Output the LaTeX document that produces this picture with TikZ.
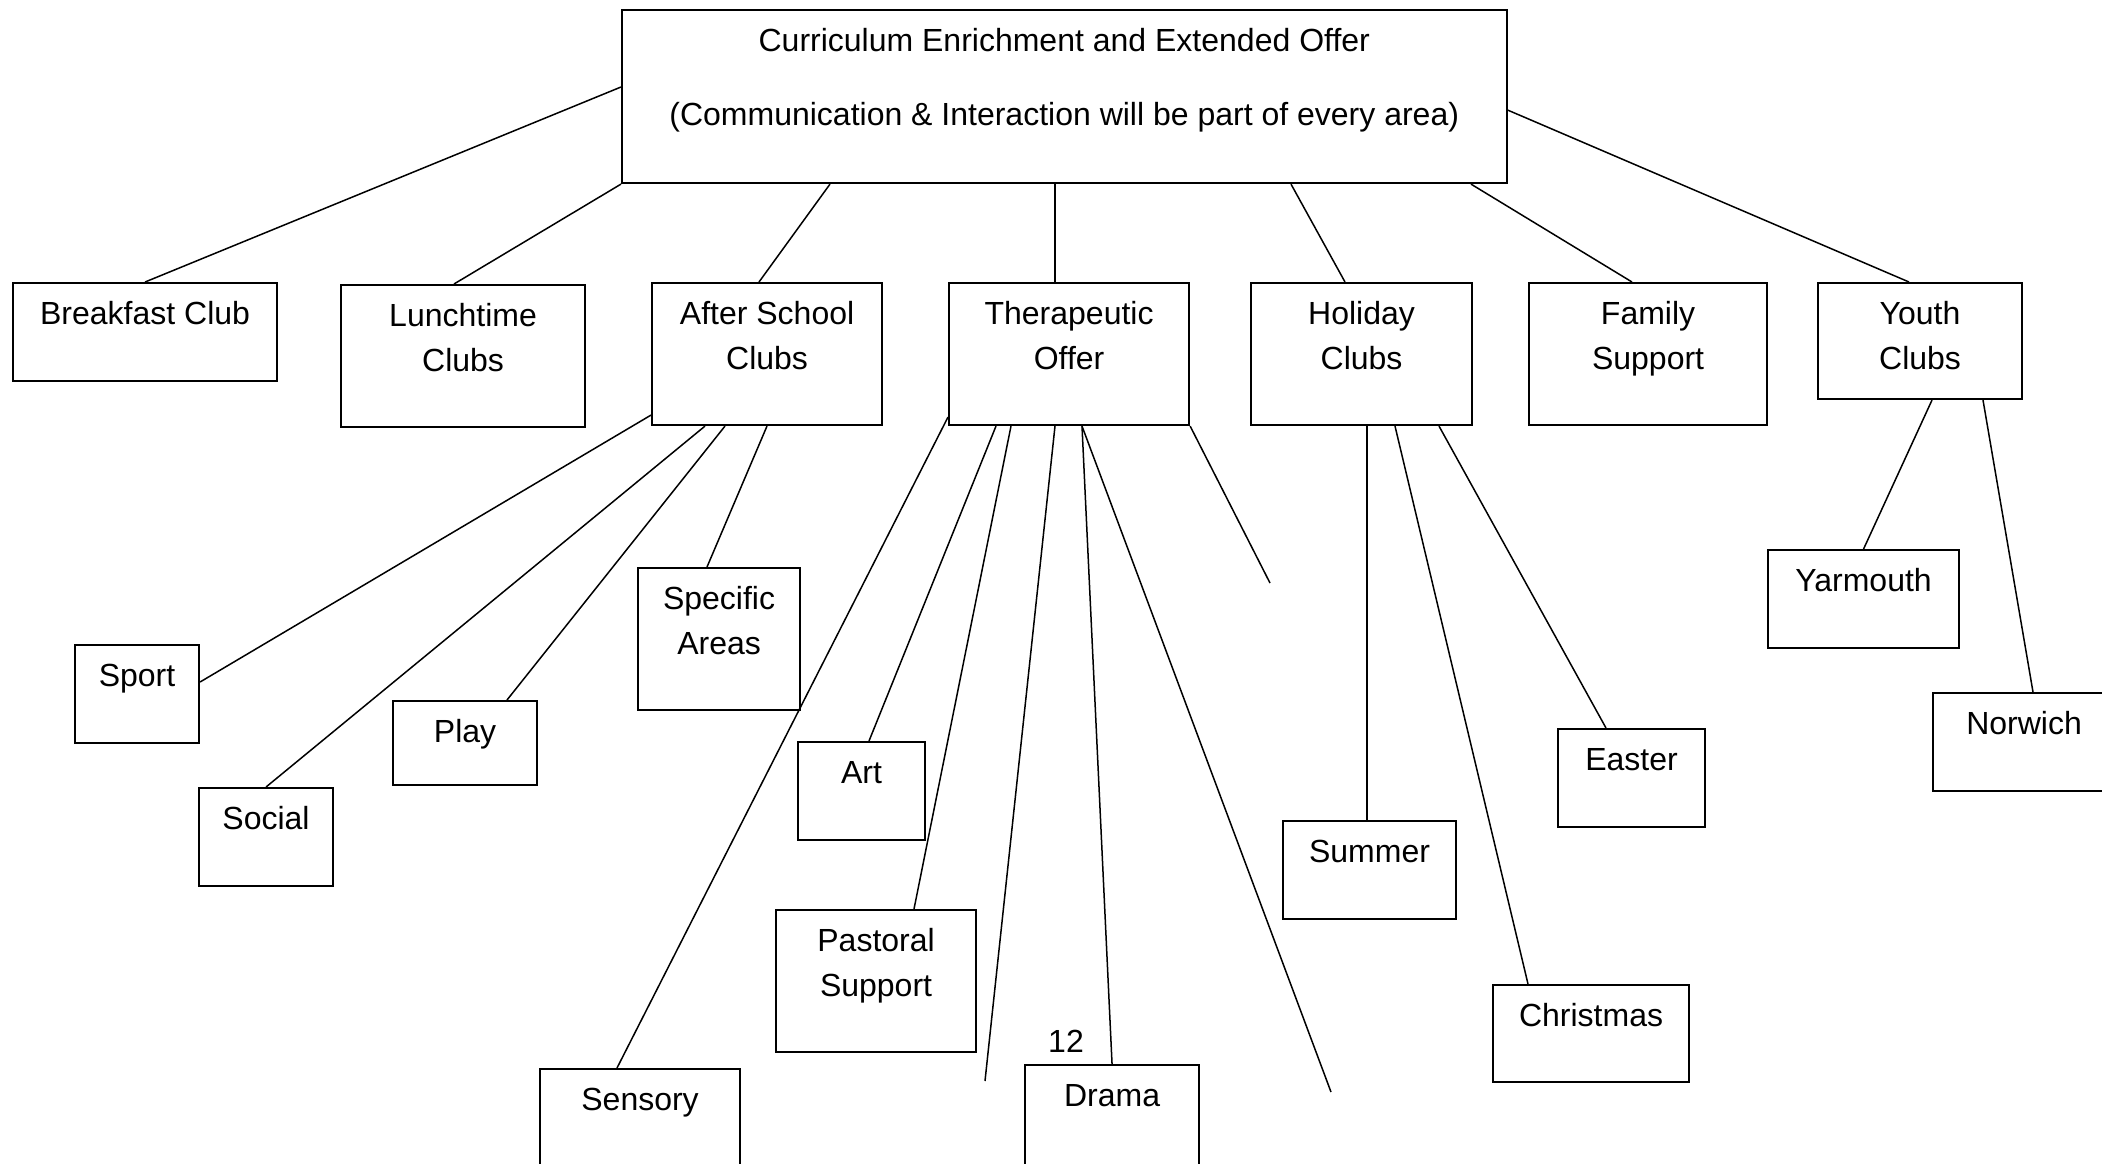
\documentclass[tikz,border=0pt]{standalone}
\usepackage{fontspec}
\setmainfont{Liberation Sans}
\usetikzlibrary{calc}

\newcommand{\btext}[3]{\parbox[c][#2][t]{#1}{\centering\vspace*{2.7pt}\strut #3}}

\begin{document}
\begin{tikzpicture}[x=0.01cm,y=-0.01cm,line width=0.15mm,
  box/.style={draw,rectangle,anchor=north west,inner sep=0pt,line width=0.2mm,
    font=\fontsize{9.1}{12.8}\selectfont}]
\useasboundingbox (0,0) rectangle (2102,1163);

\node[box] (top) at (621,9) {\btext{8.84cm}{1.73cm}{Curriculum Enrichment and Extended Offer\\[8.5pt](Communication \& Interaction will be part of every area)}};

\node[box] (bfast) at (12,282) {\btext{2.64cm}{0.98cm}{Breakfast Club}};
\node[box] (lunch) at (340,284) {\btext{2.44cm}{1.42cm}{Lunchtime\\Clubs}};
\node[box] (after) at (651,282) {\btext{2.30cm}{1.42cm}{After School\\Clubs}};
\node[box] (thera) at (948,282) {\btext{2.40cm}{1.42cm}{Therapeutic\\Offer}};
\node[box] (holiday) at (1250,282) {\btext{2.21cm}{1.42cm}{Holiday\\Clubs}};
\node[box] (family) at (1528,282) {\btext{2.38cm}{1.42cm}{Family\\Support}};
\node[box] (youth) at (1817,282) {\btext{2.04cm}{1.16cm}{Youth\\Clubs}};

\node[box] (sport) at (74,644) {\btext{1.24cm}{0.98cm}{Sport}};
\node[box] (social) at (198,787) {\btext{1.34cm}{0.98cm}{Social}};
\node[box] (play) at (392,700) {\btext{1.44cm}{0.84cm}{Play}};
\node[box] (specific) at (637,567) {\btext{1.62cm}{1.42cm}{Specific\\Areas}};

\node[box] (art) at (797,741) {\btext{1.27cm}{0.98cm}{Art}};
\node[box] (pastoral) at (775,909) {\btext{2.00cm}{1.42cm}{Pastoral\\Support}};
\node[box] (sensory) at (539,1068) {\btext{2.00cm}{1.20cm}{Sensory}};
\node[box] (drama) at (1024,1064) {\btext{1.74cm}{1.20cm}{Drama}};
\node[anchor=base,font=\fontsize{9.1}{12.8}\selectfont] (pagenum) at (1066,1052) {12};

\node[box] (summer) at (1282,820) {\btext{1.73cm}{0.98cm}{Summer}};
\node[box] (christmas) at (1492,984) {\btext{1.96cm}{0.97cm}{Christmas}};
\node[box] (easter) at (1557,728) {\btext{1.47cm}{0.98cm}{Easter}};
\node[box] (yarmouth) at (1767,549) {\btext{1.91cm}{0.98cm}{Yarmouth}};
\node[box] (norwich) at (1932,692) {\btext{1.82cm}{0.98cm}{Norwich}};

% loose ends under the therapeutic offer
\coordinate (thfreeA) at (985,1081);
\coordinate (thfreeB) at (1331,1092);
\coordinate (thfreeC) at (1270,583);

\path ($(top.north west)+(0,78)$) edge (bfast.north)
      (top.south west) edge ($(lunch.north west)+(114,0)$)
      ($(top.south west)+(209,0)$) edge ($(after.north west)+(108,0)$)
      ($(top.south west)+(434,0)$) edge ($(thera.north west)+(107,0)$)
      ($(top.south west)+(670,0)$) edge ($(holiday.north west)+(95,0)$)
      ($(top.south west)+(850,0)$) edge ($(family.north west)+(104,0)$)
      ($(top.north east)+(0,101)$) edge ($(youth.north west)+(92,0)$)
;
\path ($(after.south west)+(0,-11)$) edge ($(sport.north east)+(0,38)$)
      ($(after.south west)+(54,0)$) edge (social.north)
      ($(after.south west)+(74,0)$) edge ($(play.north west)+(115,0)$)
      ($(after.south west)+(116,0)$) edge ($(specific.north west)+(70,0)$)
;
\path ($(thera.south west)+(0,-9)$) edge ($(sensory.north west)+(78,0)$)
      ($(thera.south west)+(48,0)$) edge ($(art.north west)+(72,0)$)
      ($(thera.south west)+(63,0)$) edge ($(pastoral.north west)+(139,0)$)
      ($(thera.south west)+(107,0)$) edge (thfreeA)
      ($(thera.south west)+(134,0)$) edge (drama.north)
                                    edge (thfreeB)
      (thera.south east) edge (thfreeC)
;
\path ($(holiday.south west)+(117,0)$) edge ($(summer.north west)+(85,0)$)
      ($(holiday.south west)+(145,0)$) edge ($(christmas.north west)+(36,0)$)
      ($(holiday.south west)+(189,0)$) edge ($(easter.north west)+(49,0)$)
      ($(youth.south west)+(115,0)$) edge (yarmouth.north)
      ($(youth.south west)+(166,0)$) edge ($(norwich.north west)+(101,0)$)
;
\end{tikzpicture}
\end{document}
